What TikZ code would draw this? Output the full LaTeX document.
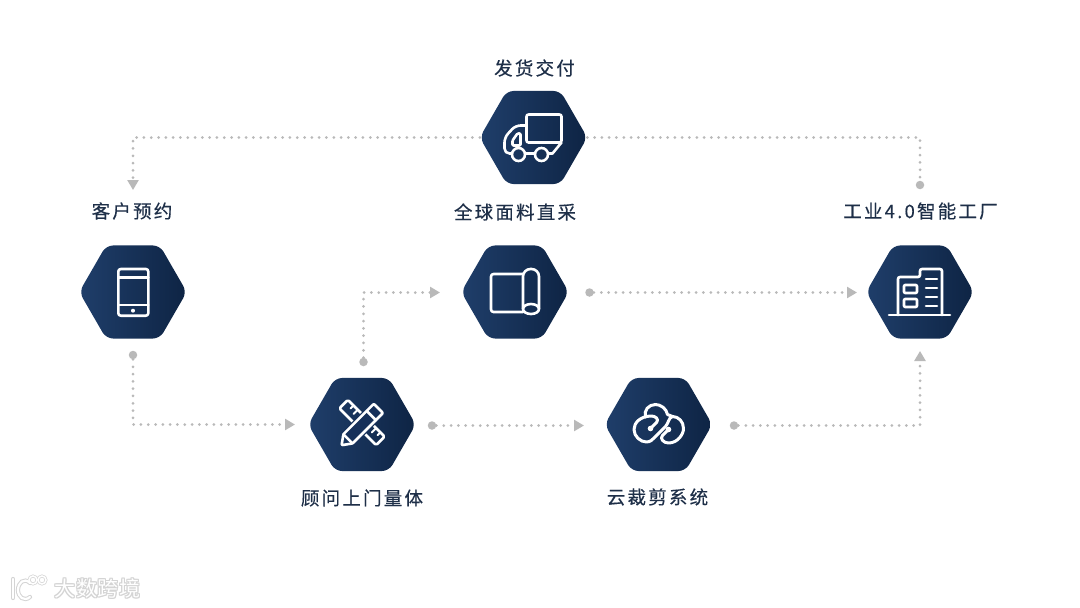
\documentclass[tikz,border=0pt]{standalone}
\usepackage{fontspec}
\usetikzlibrary{shapes.geometric,arrows.meta,calc}
\newfontfamily\lblfont[LetterSpace=12,FakeBold=0.35]{Noto Sans CJK SC}
\newfontfamily\wmfont[LetterSpace=4]{Noto Sans CJK SC}
\definecolor{hexleft}{HTML}{1F3E6A}
\definecolor{hexright}{HTML}{0E2444}
\definecolor{hexmid}{HTML}{16305A}
\definecolor{lbl}{HTML}{1E2F48}
\definecolor{conn}{HTML}{B9B9B9}
\definecolor{wmgray}{HTML}{D4D4D4}
\tikzset{
  x=1pt,y=-1pt,
  hexa/.style={regular polygon,regular polygon sides=6,minimum size=107.5pt,inner sep=0pt,outer sep=0pt,rounded corners=7pt,left color=hexleft,right color=hexright,draw=none},
  lab/.style={font=\lblfont\fontsize{18.5}{20}\selectfont,text=lbl,inner sep=0pt,anchor=center},
  conline/.style={draw=conn,line width=3pt,line cap=round,dash pattern=on 0pt off 7.3pt},
  tipline/.style={conline,-{Triangle[length=10pt,width=11pt,fill=conn,color=conn,sep=0pt]}},
  cdot/.style={circle,fill=conn,inner sep=0pt,minimum size=8.5pt,draw=none},
  ic/.style={draw=white,line width=2.6pt,line join=round,line cap=round,fill=none},
  wm/.style={font=\wmfont\fontsize{21}{23}\selectfont,inner sep=0pt},
}
\begin{document}
\begin{tikzpicture}
\useasboundingbox[fill=white] (0,0) rectangle (1080,608);
% connector dots and free ends
\node[cdot] (d2) at (920,185) {};
\node[cdot] (d3) at (133,355) {};
\node[cdot] (d4) at (363.5,362) {};
\node[cdot] (d5) at (589.5,292.5) {};
\node[cdot] (d6) at (432,425.5) {};
\node[cdot] (d7) at (734,425.5) {};
\coordinate (t1) at (133,190);
\coordinate (t3) at (295,424.5);
\coordinate (t4) at (440,292.5);
\coordinate (t5) at (857,292.5);
\coordinate (t6) at (584,425.5);
\coordinate (t7) at (920,351);
% hexagons
\node[hexa] (truck) at (533.5,137.5) {};
\node[hexa] (phone) at (133,292) {};
\node[hexa] (fabric) at (515,292) {};
\node[hexa] (factory) at (920,292) {};
\node[hexa] (pencil) at (362,424.5) {};
\node[hexa] (cloud) at (658.5,424.5) {};
% labels
\node[lab] (ltruck) at (534.5,68) {发货交付};
\node[lab] (lphone) at (132,211) {客户预约};
\node[lab] (lfabric) at (515,212) {全球面料直采};
\node[lab] (lfactory) at (920.5,211) {工业4.0智能工厂};
\node[lab] (lpencil) at (362,498) {顾问上门量体};
\node[lab] (lcloud) at (657.5,497) {云裁剪系统};
% connectors
\draw[tipline] (truck.west) -| (t1);
\draw[conline] (truck.east) -| (d2);
\draw[tipline] (d3) |- (t3);
\draw[tipline] (d4) |- (t4);
\draw[tipline] (d5) -- (t5);
\draw[tipline] (d6) -- (t6);
\draw[tipline] (d7) -| (t7);
% truck icon
\begin{scope}[shift={(truck.center)}]
\draw[ic,rounded corners=2pt] (-7,5) -- (-7,-23) -- (28,-23) -- (28,5) -- cycle;
\draw[ic,rounded corners=5pt] (-7,-12) -- (-18,-12) -- (-29,0) -- (-29,16) -- (-22,16);
\draw[ic,rounded corners=1pt] (-13,-4) -- (-16,-4) -- (-21,3) -- (-21,8) -- (-13,8) -- cycle;
\draw[ic] (-8,16) -- (1,16);
\draw[ic] (15,16) -- (19,16) -- (28,5);
\draw[ic] (-15,17) circle (6.5);
\draw[ic] (8,17) circle (6.5);
\end{scope}
% phone icon
\begin{scope}[shift={(phone.center)}]
\draw[ic,rounded corners=2.5pt] (-14.7,-23) rectangle (15.3,23.7);
\draw[ic] (-14.7,-14.7) -- (15.3,-14.7);
\draw[ic] (-14.7,13) -- (15.3,13);
\fill[white] (0,18.7) circle (2);
\end{scope}
% fabric icon
\begin{scope}[shift={(fabric.center)}]
\draw[ic,rounded corners=2.5pt] (8,-18) -- (-24,-18) -- (-24,20) -- (8,20);
\draw[ic,rounded corners=7.5pt] (8,17) -- (8,-23) -- (24,-23) -- (24,17);
\draw[ic] (16,17) ellipse (8 and 5);
\end{scope}
% factory icon
\begin{scope}[shift={(factory.center)}]
\draw[ic] (-31,23) -- (30,23);
\draw[ic,rounded corners=2pt] (-22,23) -- (-22,-15) -- (0,-15) -- (0,-23) -- (22,-23) -- (22,23);
\draw[ic,rounded corners=1pt] (-16,-7) rectangle (-3,1);
\draw[ic,rounded corners=1pt] (-16,7) rectangle (-3,15);
\draw[ic] (6,-13) -- (17,-13);
\draw[ic] (6,-4) -- (17,-4);
\draw[ic] (6,5) -- (17,5);
\draw[ic] (6,14) -- (17,14);
\end{scope}
% pencil and ruler icon
\begin{scope}[shift={(pencil.center)}]
\begin{scope}[shift={(0,-2)},rotate=-45]
\draw[ic,rounded corners=1.5pt] (-26,-6) rectangle (26,6);
\foreach \tx/\tl in {-18/4,-12/6,-6/4,8/4,14/6,20/4}
  \draw[ic,line width=2pt] (\tx,-6) -- (\tx,-6+\tl);
\end{scope}
\begin{scope}[shift={(-2,2.3)},rotate=45]
\fill[hexmid] (-17,-9) rectangle (27,9);
\draw[ic,rounded corners=1pt] (-17,-6.5) -- (26,-6.5) -- (26,6.5) -- (-17,6.5) -- (-26,0) -- cycle;
\draw[ic] (16,-6.5) -- (16,6.5);
\draw[ic] (-17,-6.5) -- (-17,6.5);
\end{scope}
\end{scope}
% cloud icon
\begin{scope}[shift={(cloud.center)}]
\draw[ic,line width=3pt] (-8,4) -- (-2,-2) .. controls (1,-5) and (-3,-9) .. (-8,-8.5) .. controls (-18,-8) and (-24.5,-2) .. (-24.5,5)
  .. controls (-24.5,12) and (-18,17.5) .. (-12,17.5) .. controls (-8,17.5) and (-6,15) .. (-4,13) -- (7,2)
  .. controls (10,-1) and (10,-7) .. (14,-8);
\draw[ic,line width=3pt] (10,5) -- (4,11) .. controls (1,14) and (5,18.5) .. (10,18.5) .. controls (19,18.5) and (25,10) .. (25,4)
  .. controls (25,-3) and (20,-8) .. (14,-8) -- (9,-10) .. controls (8,-16) and (2,-20) .. (-3,-20)
  .. controls (-10,-20) and (-15,-14) .. (-13,-7.5);
\fill[white] (-8,4) circle (2.8);
\fill[white] (10,5) circle (2.8);
\end{scope}
% watermark
\begin{scope}
\foreach \dx/\dy in {-1/0,1/0,0/-1,0/1,1/1,-1/-1,1/-1,-1/1}
  \node[wm,text=wmgray] (wm\dx\dy) at (97.5+\dx,588+\dy) {大数跨境};
\node[wm,text=white] (wmtext) at (97.5,588) {大数跨境};
\foreach \lc/\lw in {wmgray/4.2pt,white/2.2pt}{
  \draw[draw=\lc,line width=\lw,line cap=round] (13,579) -- (13,598);
  \draw[draw=\lc,line width=\lw,line cap=round] (30,583) .. controls (24,577) and (18,583) .. (18,590) .. controls (18,597) and (24,602) .. (30,597);
  \draw[draw=\lc,line width=\lw*0.7] (33,580) circle (4);
  \draw[draw=\lc,line width=\lw*0.7] (42,580) circle (4);
}
\end{scope}
\end{tikzpicture}
\end{document}
